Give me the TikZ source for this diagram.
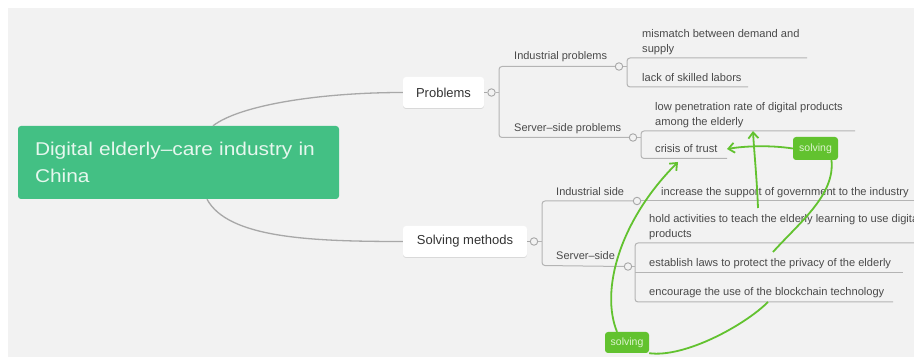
\documentclass[tikz,border=0pt]{standalone}
\usepackage{fontspec}
\setmainfont{Liberation Sans}
\newfontfamily\rootfont[FakeStretch=1.13]{Liberation Sans}
\usetikzlibrary{arrows.meta,shadows}

\definecolor{canvas}{HTML}{F2F2F2}
\definecolor{rootgreen}{HTML}{43C084}
\definecolor{roottext}{HTML}{E6F7EE}
\definecolor{linegrey}{HTML}{A8A8A8}
\definecolor{leafgrey}{HTML}{B4B4B4}
\definecolor{inkdark}{HTML}{333333}
\definecolor{inkmid}{HTML}{4A4A4A}
\definecolor{linkgreen}{HTML}{62C22F}
\definecolor{linktext}{HTML}{DDF3CE}

\begin{document}
\begin{tikzpicture}[x=1pt,y=-1pt,
  rootbox/.style={fill=rootgreen, rounded corners=3pt, minimum height=73pt,
    text width=287pt, inner xsep=17pt, align=left, text=roottext,
    font=\rootfont\fontsize{18.5}{27}\selectfont},
  topic/.style={fill=white, rounded corners=3pt, minimum height=31pt, inner xsep=0pt,
    text=inkdark, font=\fontsize{13}{15}\selectfont,
    drop shadow={shadow xshift=0pt, shadow yshift=-1pt, opacity=0.10, fill=black}},
  knob/.style={circle, draw=linegrey, fill=canvas, line width=0.9pt,
    minimum size=7.5pt, inner sep=0pt},
  brtext/.style={anchor=base west, inner sep=0pt, text=inkmid,
    font=\fontsize{11}{13}\selectfont},
  leaf/.style={anchor=base west, inner sep=0pt, text=inkmid, align=left,
    font=\fontsize{11.1}{14.8}\selectfont},
  branch/.style={draw=linegrey, line width=1.3pt},
  leafline/.style={draw=leafgrey, line width=1pt},
  solvebox/.style={fill=linkgreen, rounded corners=3pt, inner sep=0pt,
    text=linktext, font=\fontsize{10.5}{12}\selectfont},
  link/.style={draw=linkgreen, line width=1.8pt},
  linktip/.style={-{Straight Barb[length=6pt,width=10pt]}}
]
\useasboundingbox (0,0) rectangle (914,358);
\fill[white] (0,0) rectangle (914,358);
\fill[canvas] (8,8) rectangle (914,357);
\clip (0,0) rectangle (914,358);

% central topic and main topics
\node[rootbox] (root) at (178.5,162.5) {Digital elderly–care industry in\\China};
\node[topic, minimum width=81pt] (prob) at (443.5,92.5) {Problems};
\node[topic, minimum width=124pt] (solv) at (465,241.5) {Solving methods};

\draw[branch] ([xshift=34.5pt]root.north) .. controls (240,105) and (320,92.5) .. (prob.west);
\draw[branch] ([xshift=28.5pt]root.south) .. controls (228,238) and (310,241.5) .. (solv.west);

% Problems subtree
\node[knob] (c1) at (491.5,92.5) {};
\node[knob] (c2) at (619,66.5) {};
\node[knob] (c3) at (633,137.5) {};
\draw[branch] (prob.east) -- (c1.west);
\draw[leafline] (c1.east) -- (499,92.5);
\draw[leafline, rounded corners=3pt] (c2.west) -- (499,66.5) -- (499,137.5) -- (c3.west);
\node[brtext] (indprob) at (514,60) {Industrial problems};
\node[brtext] (servprob) at (514,132) {Server–side problems};

\draw[leafline] (c2.east) -- (627,66.5);
\draw[leafline, rounded corners=3pt] (807,58) -- (627,58) -- (627,87) -- (748,87);
% multi-line leaves are placed by the baseline of their last line
\node[leaf] (mismatch) at (642,52.5) {mismatch between demand and\\supply};
\node[leaf] (labor) at (642,82) {lack of skilled labors};

\draw[leafline] (c3.east) -- (641,137.5);
\draw[leafline, rounded corners=3pt] (855,131) -- (641,131) -- (641,158.5) -- (727,158.5);
\node[leaf] (lowrate) at (655,125.5) {low penetration rate of digital products\\among the elderly};
\node[leaf] (crisis) at (655,153) {crisis of trust};

% Solving methods subtree
\node[knob] (c4) at (534,241.5) {};
\node[knob] (c5) at (637,201) {};
\node[knob] (c6) at (628,266.5) {};
\draw[branch] (solv.east) -- (c4.west);
\draw[leafline] (c4.east) -- (542,241.5);
\draw[leafline, rounded corners=3pt] (c5.west) -- (542,201) -- (542,265.5) -- (c6.west);
\node[brtext] (indside) at (556,196) {Industrial side};
\node[brtext] (servside) at (556,260) {Server–side};

\draw[leafline] (c5.east) -- (914,201);
\node[leaf] (govern) at (661,196) {increase the support of government to the industry};

\draw[leafline] (c6.east) -- (635,266.5);
\draw[leafline, rounded corners=3pt] (920,243) -- (635,243) -- (635,302) -- (893,302);
\draw[leafline] (635,273) -- (903,273);
\node[leaf] (teach) at (649,237.5) {hold activities to teach the elderly learning to use digital\\products};
\node[leaf] (laws) at (649,267) {establish laws to protect the privacy of the elderly};
\node[leaf] (chain) at (649,296) {encourage the use of the blockchain technology};

% hand-drawn "solving" links
\node[solvebox, minimum width=45pt, minimum height=23pt] (solA) at (815.5,148.5) {solving};
\node[solvebox, minimum width=44pt, minimum height=21pt] (solB) at (627,342.5) {solving};

\coordinate (crisisend) at (727,149);
\coordinate (lowtip) at (753,131);
\coordinate (teachpt) at (758,208);
\coordinate (lawpt) at (773,252);
\coordinate (crisistip) at (678,162);
\coordinate (chainpt) at (768,302);

\draw[link, linktip] (solA.west) .. controls (770,145) and (745,146) .. (crisisend);
\draw[link, linktip] (teachpt) .. controls (757,180) and (754,150) .. (lowtip);
\draw[link] (lawpt) .. controls (800,222) and (835,195) .. ([xshift=16pt]solA.south);
\draw[link, linktip] ([xshift=-10pt]solB.north) .. controls (600,290) and (620,220) .. (crisistip);
\draw[link] (solB.south east) .. controls (685,358) and (745,325) .. (chainpt);
\end{tikzpicture}
\end{document}
